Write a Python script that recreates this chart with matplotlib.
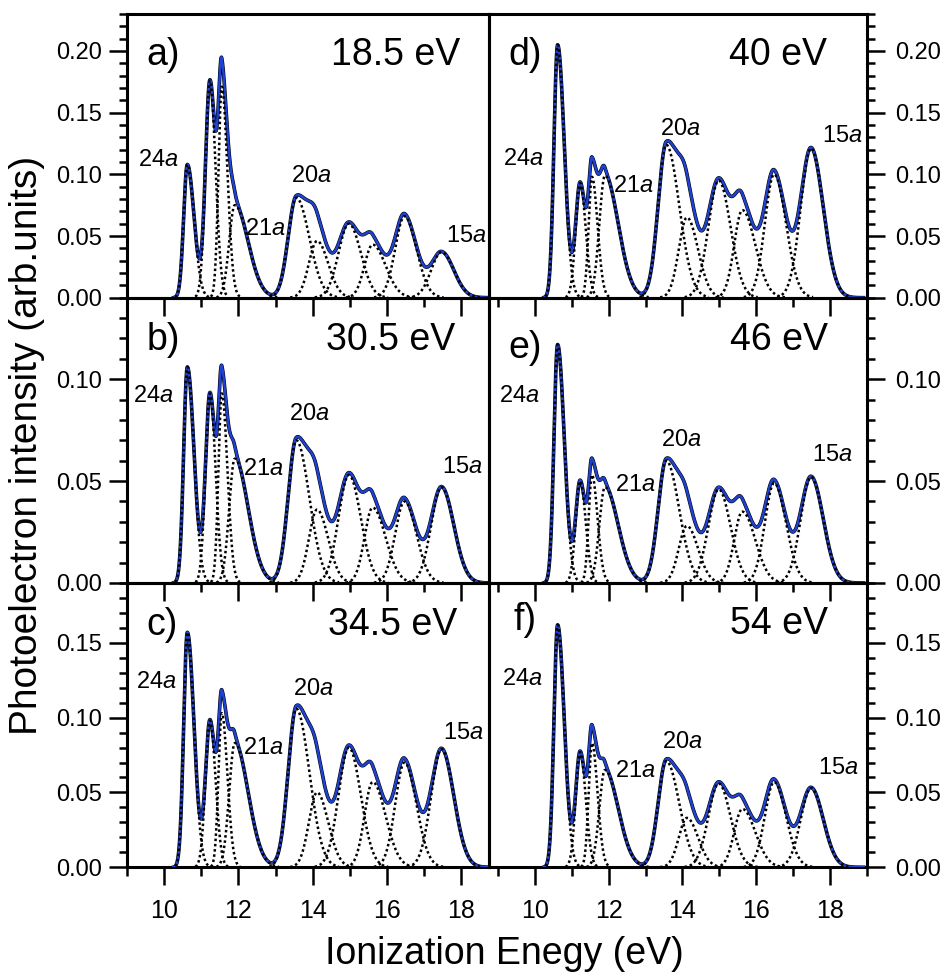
import numpy as np
import matplotlib
matplotlib.use("Agg")
import matplotlib.pyplot as plt
from matplotlib.ticker import MultipleLocator, FormatStrFormatter

plt.rcParams["font.family"] = ["Liberation Sans", "DejaVu Sans"]
plt.rcParams["mathtext.fontset"] = "custom"
plt.rcParams["mathtext.rm"] = "Liberation Sans"
plt.rcParams["mathtext.it"] = "Liberation Sans:italic"

# fitted peak components (ionization energy, eV) - shared positions / widths
centers = [10.62, 11.23, 11.55, 11.90, 13.56, 14.12, 14.98, 15.62, 16.48, 17.48]
sig_left = [0.10, 0.12, 0.09, 0.15, 0.22, 0.22, 0.28, 0.22, 0.25, 0.28]
sig_right = [0.18, 0.15, 0.15, 0.36, 0.35, 0.30, 0.32, 0.35, 0.32, 0.33]

# peak heights per photon energy
h_185 = [0.108, 0.176, 0.171, 0.075, 0.081, 0.046, 0.060, 0.043, 0.066, 0.037]
h_305 = [0.106, 0.093, 0.093, 0.061, 0.070, 0.036, 0.053, 0.037, 0.040, 0.047]
h_345 = [0.157, 0.098, 0.103, 0.083, 0.106, 0.050, 0.080, 0.057, 0.070, 0.079]
h_40 = [0.205, 0.093, 0.098, 0.099, 0.124, 0.065, 0.095, 0.071, 0.100, 0.121]
h_46 = [0.117, 0.050, 0.053, 0.047, 0.060, 0.028, 0.046, 0.035, 0.049, 0.052]
h_54 = [0.162, 0.077, 0.083, 0.065, 0.071, 0.033, 0.056, 0.039, 0.057, 0.053]

photon = ["18.5 eV", "30.5 eV", "34.5 eV", "40 eV", "46 eV", "54 eV"]
letters = ["a)", "b)", "c)", "d)", "e)", "f)"]
heights = [h_185, h_305, h_345, h_40, h_46, h_54]
ymax = [0.23, 0.14, 0.19, 0.23, 0.14, 0.19]
orbitals = ["24", "21", "20", "15"]

# label positions (data coords, left/baseline)
lab_pos = [
    [(9.29, 0.107), (12.18, 0.051), (13.41, 0.094), (17.60, 0.045)],
    [(9.16, 0.089), (12.13, 0.053), (13.37, 0.080), (17.49, 0.054)],
    [(9.23, 0.120), (12.11, 0.076), (13.48, 0.115), (17.51, 0.086)],
    [(9.13, 0.1075), (12.12, 0.086), (13.38, 0.132), (17.77, 0.126)],
    [(9.04, 0.089), (12.17, 0.045), (13.43, 0.067), (17.50, 0.060)],
    [(9.11, 0.1215), (12.17, 0.060), (13.45, 0.080), (17.68, 0.062)],
]
letter_pos = [(0.052, 0.82), (0.053, 0.817), (0.053, 0.817), (0.05, 0.82), (0.05, 0.79), (0.063, 0.835)]
photon_x = [0.919, 0.905, 0.91, 0.893, 0.897, 0.897]

e_min, e_max = 10.25, 18.9
E = np.linspace(e_min, e_max, 2000)


def comp(x, c, sl, sr, h):
    s = np.where(x < c, sl, sr)
    return h * np.exp(-0.5 * ((x - c) / s) ** 2)


fig = plt.figure(figsize=(9.48, 9.76), dpi=100)
lefts = [0.1343, 0.5161]
widths = [0.3819, 0.3987]
bottoms = [0.6950, 0.4027, 0.1114]
hts = [0.2907, 0.2923, 0.2913]
xlims = [(9.0, 18.77), (8.77, 19.0)]

blue = "#2042d0"
for i in range(6):
    col, row = i // 3, i % 3
    ax = fig.add_axes([lefts[col], bottoms[row], widths[col], hts[row]])
    ax.set_facecolor("none")
    total = np.zeros_like(E)
    comps = []
    for c, sl, sr, h in zip(centers, sig_left, sig_right, heights[i]):
        y = comp(E, c, sl, sr, h)
        total += y
        m = (E > c - 3.3 * sl) & (E < c + 3.3 * sr)
        comps.append((E[m], y[m]))
    ax.plot(E, total, color="black", lw=2.6, zorder=2)
    ax.plot(E, total, color=blue, lw=1.8, zorder=3)
    for xe, ye in comps:
        ax.plot(xe, ye, color="black", lw=1.8, linestyle=(0, (1, 1.1)), zorder=4)

    ax.set_xlim(*xlims[col])
    ax.set_ylim(0, ymax[i])
    ax.xaxis.set_major_locator(MultipleLocator(2))
    ax.xaxis.set_minor_locator(MultipleLocator(1))
    ax.yaxis.set_major_locator(MultipleLocator(0.05))
    ax.yaxis.set_minor_locator(MultipleLocator(0.01))
    ax.yaxis.set_major_formatter(FormatStrFormatter("%.2f"))
    for s in ax.spines.values():
        s.set_linewidth(2.2)
    ax.tick_params(axis="x", which="both", direction="out", top=False, width=1.8,
                   labelbottom=(row == 2), labelsize=18, pad=10)
    ax.tick_params(axis="x", which="major", length=13)
    ax.tick_params(axis="x", which="minor", length=6.5)
    if col == 0:
        ax.tick_params(axis="y", which="both", direction="out", left=True, right=False,
                       labelleft=True, labelright=False, width=1.8, labelsize=17, pad=5)
    else:
        ax.tick_params(axis="y", which="both", direction="out", left=False, right=True,
                       labelleft=False, labelright=True, width=1.8, labelsize=17, pad=7)
    ax.tick_params(axis="y", which="major", length=13)
    ax.tick_params(axis="y", which="minor", length=6)

    ax.text(letter_pos[i][0], letter_pos[i][1], letters[i], transform=ax.transAxes,
            fontsize=27, ha="left", va="baseline")
    ax.text(photon_x[i], 0.82 if i not in (1, 2, 4) else 0.817, photon[i],
            transform=ax.transAxes, fontsize=27, ha="right", va="baseline")
    for name, (px, py) in zip(orbitals, lab_pos[i]):
        ax.text(px, py, name + r"$\mathit{a}$", fontsize=17, ha="left", va="baseline")

fig.text(0.0285, 0.544, "Photoelectron intensity (arb.units)", rotation=90,
         fontsize=28, ha="center", va="center")
fig.text(0.532, 0.0123, "Ionization Enegy (eV)", fontsize=27, ha="center",
         va="baseline")

fig.savefig("out.png", dpi=100)
